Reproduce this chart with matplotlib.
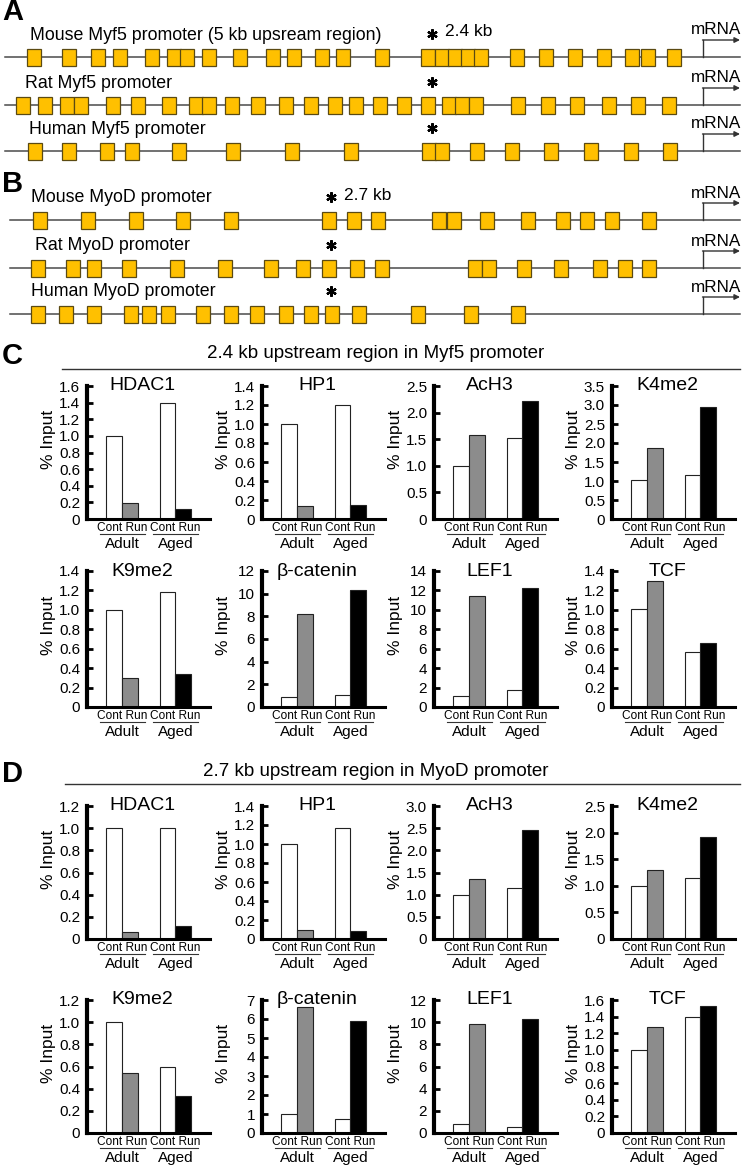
import numpy as np
import matplotlib.pyplot as plt
import matplotlib.transforms as mtransforms
from matplotlib.lines import Line2D

plt.rcParams['font.family'] = ['Liberation Sans', 'DejaVu Sans']

# ---- promoter schematics: site positions along the drawn line ----
mouse_myf5_sites = [34, 69, 98, 120, 152, 174, 187, 209, 240, 273, 294, 322, 343, 382,
                    428, 442, 455, 468, 481, 517, 546, 575, 604, 632, 648, 674]
rat_myf5_sites = [23, 45, 67, 81, 113, 138, 169, 196, 209, 232, 258, 286, 311, 335, 356,
                  380, 404, 428, 449, 462, 476, 518, 548, 577, 609, 638, 669]
human_myf5_sites = [35, 69, 107, 132, 179, 233, 292, 351, 429, 442, 477, 512, 551, 591, 631, 670]

mouse_myod_sites = [40, 88, 136, 183, 231, 329, 354, 378, 439, 454, 487, 528, 563, 587, 612, 649]
rat_myod_sites = [38, 73, 94, 129, 177, 225, 271, 303, 329, 357, 382, 475, 489, 524, 561,
                  600, 625, 649]
human_myod_sites = [38, 66, 94, 131, 149, 168, 203, 231, 257, 286, 311, 332, 359, 418, 471, 518]

myf5_labels = ["Mouse Myf5 promoter (5 kb upsream region)", "Rat Myf5 promoter", "Human Myf5 promoter"]
myod_labels = ["Mouse MyoD promoter", "Rat MyoD promoter", "Human MyoD promoter"]

# ---- ChIP bar data: [Adult Cont, Adult Run, Aged Cont, Aged Run] ----
groups = ["Adult", "Aged"]
conditions = ["Cont", "Run"]
targets = ["HDAC1", "HP1", "AcH3", "K4me2", "K9me2", "β-catenin", "LEF1", "TCF"]

myf5_hdac1 = [1.0, 0.19, 1.4, 0.12]
myf5_hp1 = [1.0, 0.14, 1.2, 0.15]
myf5_ach3 = [1.0, 1.58, 1.53, 2.22]
myf5_k4me2 = [1.02, 1.87, 1.15, 2.95]
myf5_k9me2 = [1.0, 0.30, 1.18, 0.34]
myf5_bcat = [0.9, 8.2, 1.1, 10.3]
myf5_lef1 = [1.1, 11.4, 1.7, 12.3]
myf5_tcf = [1.01, 1.30, 0.57, 0.66]
myf5_ymax = [1.6, 1.4, 2.5, 3.5, 1.4, 12, 14, 1.4]
myf5_ystep = [0.2, 0.2, 0.5, 0.5, 0.2, 2, 2, 0.2]

myod_hdac1 = [1.0, 0.06, 1.0, 0.12]
myod_hp1 = [1.0, 0.09, 1.17, 0.08]
myod_ach3 = [1.0, 1.35, 1.15, 2.45]
myod_k4me2 = [1.0, 1.3, 1.15, 1.92]
myod_k9me2 = [1.0, 0.54, 0.60, 0.33]
myod_bcat = [1.0, 6.65, 0.75, 5.9]
myod_lef1 = [0.85, 9.8, 0.5, 10.3]
myod_tcf = [1.0, 1.27, 1.4, 1.53]
myod_ymax = [1.2, 1.4, 3.0, 2.5, 1.2, 7, 12, 1.6]
myod_ystep = [0.2, 0.2, 0.5, 0.5, 0.2, 1, 2, 0.2]

myf5_data = [myf5_hdac1, myf5_hp1, myf5_ach3, myf5_k4me2, myf5_k9me2, myf5_bcat, myf5_lef1, myf5_tcf]
myod_data = [myod_hdac1, myod_hp1, myod_ach3, myod_k4me2, myod_k9me2, myod_bcat, myod_lef1, myod_tcf]

W, H = 745, 1167
fig = plt.figure(figsize=(W / 100, H / 100), dpi=100)
ov = fig.add_axes([0, 0, 1, 1])
ov.set_xlim(0, W)
ov.set_ylim(H, 0)
ov.axis('off')

BOX = '#FFC000'


def promoter(y, sites, label, lx, star_x, x0=5, kb=None):
    ov.plot([x0, 740], [y, y], color='#4a4a4a', lw=1.1, zorder=1)
    ov.bar(sites, 17, bottom=y - 8.5, width=13.5, color=BOX, edgecolor='#5b4a12', lw=0.9, zorder=2)
    ov.text(lx, y - 22, label, fontsize=12.8, va='center', ha='left')
    ov.plot(star_x, y - 23, marker=(6, 2, 0), ms=7.5, mew=1.6, color='k')
    if kb:
        ov.text(star_x + 13, y - 25, kb, fontsize=12.5, va='center', ha='left')
    # transcription start arrow
    ov.plot([703, 703], [y, y - 17], color='#333333', lw=1.0)
    ov.annotate('', xy=(740, y - 17), xytext=(702.5, y - 17),
                arrowprops=dict(arrowstyle='-|>', lw=1.0, color='#333333', mutation_scale=8,
                                shrinkA=0, shrinkB=0))
    ov.text(716, y - 27, 'mRNA', fontsize=12.3, va='center', ha='center')


ov.text(2, 12, 'A', fontsize=21, fontweight='bold', va='center')
promoter(57, mouse_myf5_sites, myf5_labels[0], 30, 432, kb='2.4 kb')
promoter(105, rat_myf5_sites, myf5_labels[1], 25, 432)
promoter(151, human_myf5_sites, myf5_labels[2], 29, 432)

ov.text(2, 184, 'B', fontsize=21, fontweight='bold', va='center')
promoter(220, mouse_myod_sites, myod_labels[0], 31, 331, x0=10, kb='2.7 kb')
promoter(268, rat_myod_sites, myod_labels[1], 35, 331, x0=10)
promoter(314, human_myod_sites, myod_labels[2], 31, 331, x0=10)

# ---- panels C and D ----
xpos = [0, 1, 3.34, 4.34]
pair_centers = [0.5, 3.84]
bar_colors = ['white', '#8c8c8c', 'white', 'black']
cols_x = [87, 262, 434, 612]
ax_w = 123


def bar_panel(x0, ytop, ybot, title, vals, ymax, ystep):
    ax = fig.add_axes([x0 / W, 1 - ybot / H, ax_w / W, (ybot - ytop) / H])
    ax.patch.set_alpha(0)
    ax.bar(xpos, vals, width=1, color=bar_colors, edgecolor='#222222', lw=0.8, zorder=2)
    ax.set_xlim(-1.7, 6.0)
    ax.set_ylim(0, ymax)
    ticks = np.arange(0, ymax + ystep / 2, ystep)
    ax.set_yticks(ticks)
    fmt = '%.1f' if ystep < 1 else '%d'
    ax.set_yticklabels(['0'] + [fmt % t for t in ticks[1:]], fontsize=11)
    ax.set_xticks([])
    for s in ['top', 'right']:
        ax.spines[s].set_visible(False)
    ax.spines['left'].set_linewidth(3)
    ax.spines['bottom'].set_linewidth(2.2)
    ax.tick_params(axis='y', direction='in', length=4, width=2, pad=5)
    ax.set_ylabel('% Input', fontsize=12.5)
    ax.yaxis.set_label_coords(-0.25, 0.6)
    ax.text(0.45, 1.0, title, transform=ax.transAxes, ha='center', va='center', fontsize=14)
    blend = mtransforms.blended_transform_factory(ax.transData, ax.transAxes)
    for g, pc in zip(groups, pair_centers):
        ax.annotate(' '.join(conditions), xy=(pc, 0), xycoords=blend, xytext=(0, -6.5),
                    textcoords='offset points', ha='center', va='center', fontsize=8.6)
        ax.annotate(g, xy=(pc, 0), xycoords=blend, xytext=(0, -18),
                    textcoords='offset points', ha='center', va='center', fontsize=11)
        tr = mtransforms.offset_copy(blend, fig=fig, y=-11, units='points')
        ax.add_line(Line2D([pc - 1.4, pc + 1.4], [0, 0], transform=tr, color='#333333',
                           lw=0.8, clip_on=False))
    return ax


def section(letter, ly, header, hy, line_y, line_x0, rows, data, ymaxs, ysteps):
    ov.text(2, ly, letter, fontsize=21, fontweight='bold', va='center')
    ov.text(376, hy, header, fontsize=13.5, ha='center', va='center')
    ov.plot([line_x0, 740], [line_y, line_y], color='#333333', lw=1.0)
    for i in range(8):
        ytop, ybot = rows[i // 4]
        bar_panel(cols_x[i % 4], ytop, ybot, targets[i], data[i], ymaxs[i], ysteps[i])


section('C', 356, '2.4 kb upstream region in Myf5 promoter', 354, 369, 62,
        [(386, 519), (571, 707)], myf5_data, myf5_ymax, myf5_ystep)
section('D', 774, '2.7 kb upstream region in MyoD promoter', 772, 784, 65,
        [(806, 939), (1000, 1133)], myod_data, myod_ymax, myod_ystep)

fig.savefig('out.png', dpi=100)
